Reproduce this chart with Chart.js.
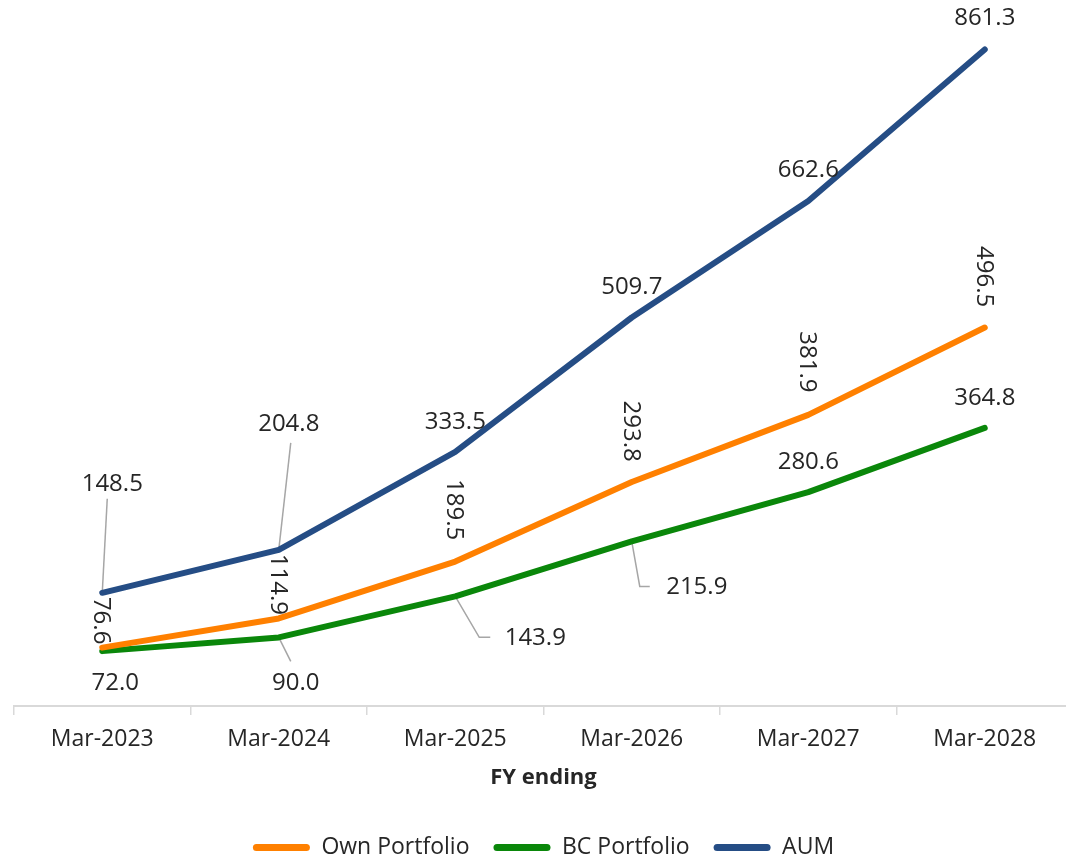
<!DOCTYPE html>
<html>
<head>
<meta charset="utf-8">
<script src="https://cdn.jsdelivr.net/npm/chart.js@4/dist/chart.umd.min.js"></script>
<style>
  html, body { margin: 0; padding: 0; background: #fff; overflow: hidden; }
  #wrap { width: 1087px; height: 856px; }
</style>
</head>
<body>
<div id="wrap"><canvas id="chart" width="1087" height="856"></canvas></div>
<script>
// data
var years = ["Mar-2023", "Mar-2024", "Mar-2025", "Mar-2026", "Mar-2027", "Mar-2028"];
var ownPortfolio = [76.6, 114.9, 189.5, 293.8, 381.9, 496.5];
var bcPortfolio = [72.0, 90.0, 143.9, 215.9, 280.6, 364.8];
var aum = [148.5, 204.8, 333.5, 509.7, 662.6, 861.3];

var FONT = "'Open Sans', 'DejaVu Sans', sans-serif";
var TEXT = "#262626";

// where each value label sits relative to its point (px), rotation and leader line
var labelPlace = [
  // Own Portfolio - labels written top to bottom
  [ {dx: 0, dy: -27, rot: true}, {dx: 0, dy: -34, rot: true}, {dx: 0, dy: -52, rot: true},
    {dx: 0, dy: -51, rot: true}, {dx: 0, dy: -53, rot: true}, {dx: 0, dy: -51, rot: true} ],
  // BC Portfolio
  [ {dx: 13, dy: 31}, {dx: 17, dy: 45, leader: [[12, 24]]},
    {dx: 80, dy: 41, leader: [[24, 41], [35, 41]]},
    {dx: 65, dy: 45, leader: [[8, 45], [18, 45]]},
    {dx: 0, dy: -31}, {dx: 0, dy: -31} ],
  // AUM
  [ {dx: 10, dy: -110, leader: [[5, -94]]}, {dx: 10, dy: -127, leader: [[12, -107]]},
    {dx: 0, dy: -31}, {dx: 0, dy: -31}, {dx: 0, dy: -32}, {dx: 0, dy: -32} ]
];

var pointLabels = {
  id: 'pointLabels',
  beforeDatasetsDraw: function(chart) {
    var ctx = chart.ctx;
    ctx.save();
    ctx.strokeStyle = '#a6a6a6';
    ctx.lineWidth = 1.5;
    chart.data.datasets.forEach(function(ds, i) {
      var meta = chart.getDatasetMeta(i);
      meta.data.forEach(function(pt, j) {
        var p = labelPlace[i][j];
        if (!p.leader) return;
        ctx.beginPath();
        ctx.moveTo(pt.x, pt.y);
        p.leader.forEach(function(q) { ctx.lineTo(pt.x + q[0], pt.y + q[1]); });
        ctx.stroke();
      });
    });
    ctx.restore();
  },
  afterDatasetsDraw: function(chart) {
    var ctx = chart.ctx;
    ctx.save();
    ctx.font = "24px " + FONT;
    ctx.fillStyle = TEXT;
    ctx.textAlign = 'center';
    ctx.textBaseline = 'middle';
    chart.data.datasets.forEach(function(ds, i) {
      var meta = chart.getDatasetMeta(i);
      meta.data.forEach(function(pt, j) {
        var p = labelPlace[i][j];
        var txt = ds.data[j].toFixed(1);
        ctx.save();
        ctx.translate(pt.x + p.dx, pt.y + p.dy);
        if (p.rot) ctx.rotate(Math.PI / 2);
        ctx.fillText(txt, 0, 1);
        ctx.restore();
      });
    });
    ctx.restore();
  }
};

function lineSet(label, values, color) {
  return {
    label: label,
    data: values,
    borderColor: color,
    backgroundColor: color,
    borderWidth: 6,
    borderCapStyle: 'round',
    borderJoinStyle: 'round',
    tension: 0,
    pointRadius: 0,
    fill: false
  };
}

new Chart(document.getElementById('chart'), {
  type: 'line',
  data: {
    labels: years,
    datasets: [
      lineSet("Own Portfolio", ownPortfolio, "#ff8000"),
      lineSet("BC Portfolio", bcPortfolio, "#0a870a"),
      lineSet("AUM", aum, "#254d85")
    ]
  },
  options: {
    responsive: false,
    animation: false,
    layout: { padding: { left: 14, right: 14, top: 20, bottom: -13 } },
    plugins: {
      tooltip: { enabled: false },
      legend: {
        position: 'bottom',
        labels: {
          color: TEXT,
          font: { family: FONT, size: 23 },
          boxWidth: 57,
          boxHeight: 7,
          useBorderRadius: true,
          borderRadius: 3.5,
          padding: 24,
          generateLabels: function(chart) {
            return Chart.defaults.plugins.legend.labels.generateLabels(chart).map(function(l) {
              l.lineWidth = 0;
              return l;
            });
          }
        }
      }
    },
    scales: {
      x: {
        offset: true,
        grid: { offset: true, drawOnChartArea: false, drawTicks: true, tickLength: 9, color: '#d9d9d9', lineWidth: 1.5 },
        border: { display: true, color: '#d9d9d9', width: 2 },
        ticks: { color: TEXT, font: { family: FONT, size: 23 }, padding: 11, maxRotation: 0 },
        title: { display: true, text: "FY ending", color: TEXT, font: { family: FONT, size: 22, weight: 'bold' }, padding: { top: 0, bottom: 21 } }
      },
      y: {
        display: false,
        min: 0,
        max: 900
      }
    }
  },
  plugins: [pointLabels]
});
</script>
</body>
</html>
